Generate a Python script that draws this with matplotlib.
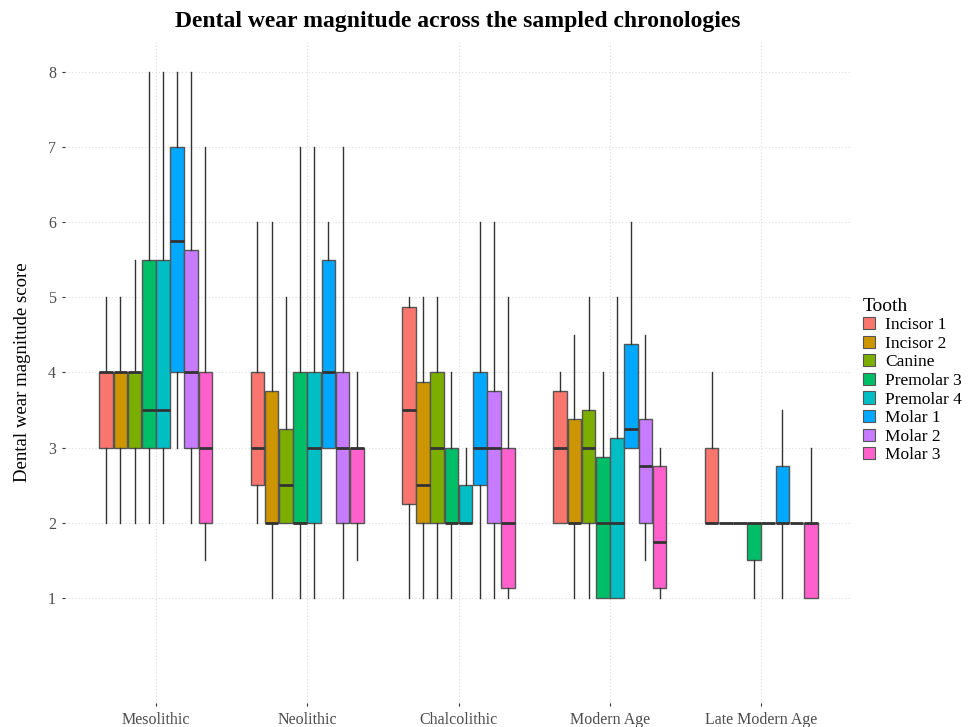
import numpy as np
import matplotlib
matplotlib.use('Agg')
from matplotlib import pyplot as plt
from matplotlib.patches import Patch

plt.rcParams['font.family'] = ['Liberation Serif', 'DejaVu Serif']

periods = ['Mesolithic', 'Neolithic', 'Chalcolithic', 'Modern Age', 'Late Modern Age']
teeth = ['Incisor 1', 'Incisor 2', 'Canine', 'Premolar 3', 'Premolar 4',
         'Molar 1', 'Molar 2', 'Molar 3']
colors = ['#F8766D', '#CD9600', '#7CAE00', '#00BE67', '#00BFC4',
          '#00A9FF', '#C77CFF', '#FF61CC']

# rows = periods, columns = teeth
whisker_low = [
    [2, 2, 2, 2, 2, 3, 2, 1.5],
    [2, 1, 2, 1, 1, 3, 1, 1.5],
    [1, 1, 1, 1, 2, 1, 1, 1],
    [2, 1, 1, 1, 1, 3, 1.5, 1],
    [2, 2, 2, 1, 2, 1, 2, 1],
]
q1 = [
    [3, 3, 3, 3, 3, 4, 3, 2],
    [2.5, 2, 2, 2, 2, 3, 2, 2],
    [2.25, 2, 2, 2, 2, 2.5, 2, 1.125],
    [2, 2, 2, 1, 1, 3, 2, 1.125],
    [2, 2, 2, 1.5, 2, 2, 2, 1],
]
median = [
    [4, 4, 4, 3.5, 3.5, 5.75, 4, 3],
    [3, 2, 2.5, 2, 3, 4, 3, 3],
    [3.5, 2.5, 3, 2, 2, 3, 3, 2],
    [3, 2, 3, 2, 2, 3.25, 2.75, 1.75],
    [2, 2, 2, 2, 2, 2, 2, 2],
]
q3 = [
    [4, 4, 4, 5.5, 5.5, 7, 5.625, 4],
    [4, 3.75, 3.25, 4, 4, 5.5, 4, 3],
    [4.875, 3.875, 4, 3, 2.5, 4, 3.75, 3],
    [3.75, 3.375, 3.5, 2.875, 3.125, 4.375, 3.375, 2.75],
    [3, 2, 2, 2, 2, 2.75, 2, 2],
]
whisker_high = [
    [5, 5, 5.5, 8, 8, 8, 8, 7],
    [6, 6, 5, 7, 7, 6, 7, 4],
    [5, 5, 5, 4, 3, 6, 6, 5],
    [4, 4.5, 5, 4, 5, 6, 4.5, 3],
    [4, 2, 2, 2, 2, 3.5, 2, 3],
]

fig = plt.figure(figsize=(9.76, 7.27), dpi=100)
ax = fig.add_axes([65 / 976, 1 - 703 / 727, (852 - 65) / 976, (703 - 42) / 727])

dodge = 0.75
n = len(teeth)
w = dodge / n
for j, tooth in enumerate(teeth):
    stats = []
    pos = []
    for i in range(len(periods)):
        stats.append(dict(whislo=whisker_low[i][j], q1=q1[i][j], med=median[i][j],
                          q3=q3[i][j], whishi=whisker_high[i][j], fliers=[]))
        pos.append(i + 1 - dodge / 2 + w * (j + 0.5))
    ax.bxp(stats, positions=pos, widths=w * 0.96, patch_artist=True,
           showcaps=False, showfliers=False,
           boxprops=dict(facecolor=colors[j], edgecolor='#555555', linewidth=1.0),
           medianprops=dict(color='#333333', linewidth=2.0, solid_capstyle='butt'),
           whiskerprops=dict(color='#333333', linewidth=1.0))

ax.set_xlim(0.4, 5.6)
ax.set_ylim(-0.4, 8.4)
ax.set_xticks(range(1, len(periods) + 1))
ax.set_xticklabels(periods)
ax.set_yticks(range(1, 9))
ax.grid(True, color='#dddddd', linestyle=(0, (1, 2)), linewidth=0.8)
ax.set_axisbelow(True)
for s in ax.spines.values():
    s.set_visible(False)
ax.tick_params(length=2.5, width=0.8, color='#333333', labelcolor='#4d4d4d',
               labelsize=11.5, pad=4)
ax.set_ylabel('Dental wear magnitude score', fontsize=13.5, labelpad=12)
fig.suptitle('Dental wear magnitude across the sampled chronologies',
             fontsize=17, fontweight='bold', x=458 / 976, y=0.985)

handles = [Patch(facecolor=c, edgecolor='#555555', linewidth=0.8) for c in colors]
leg = fig.legend(handles, teeth, loc='upper left', bbox_to_anchor=(0.868, 0.612),
                 title='Tooth', frameon=False, fontsize=12.5, title_fontsize=14,
                 handlelength=0.7, handleheight=0.7, handletextpad=0.6,
                 labelspacing=0.14, alignment='left')

fig.savefig('out.png', dpi=100)
